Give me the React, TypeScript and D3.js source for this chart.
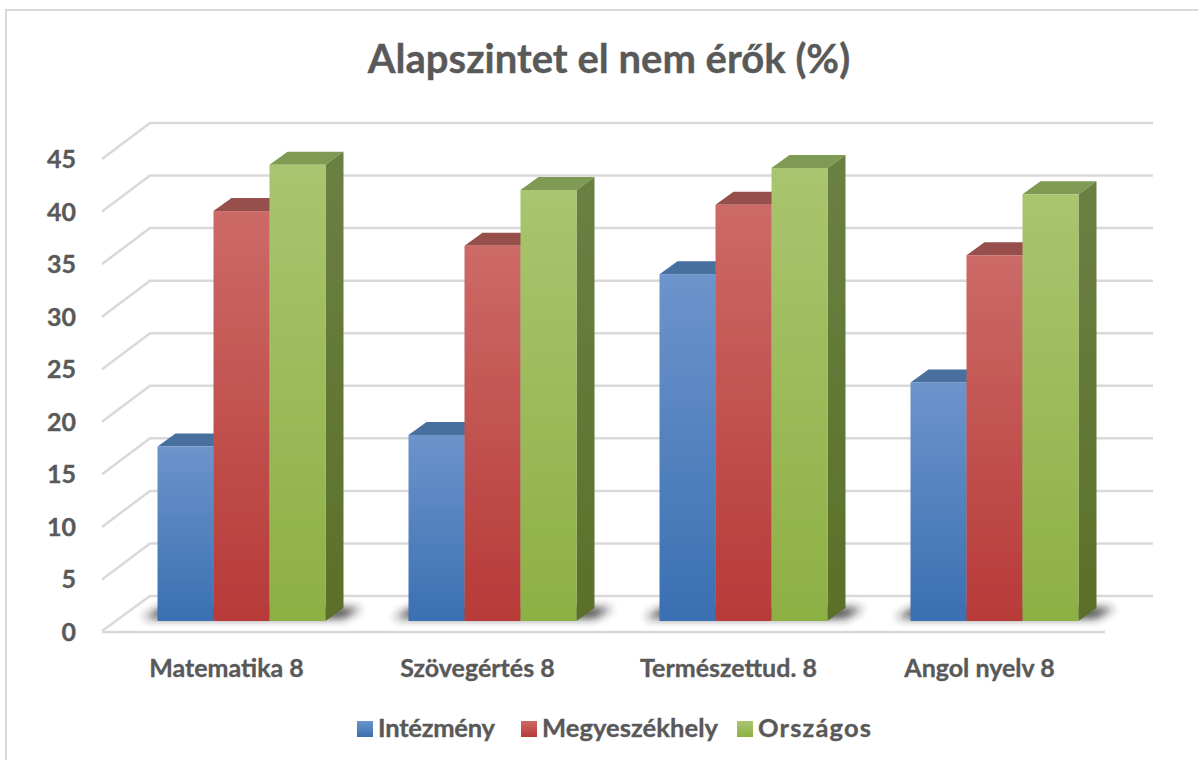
import React from "react";
import * as d3 from "d3";

const categories = ["Matematika 8", "Szövegértés 8", "Természettud. 8", "Angol nyelv 8"];
const seriesNames = ["Intézmény", "Megyeszékhely", "Országos"];
const intezmeny = [16.6, 17.7, 33.0, 22.7];
const megyeszekhely = [39.0, 35.7, 39.6, 34.8];
const orszagos = [43.4, 41.0, 43.1, 40.6];
const yTicks = [0, 5, 10, 15, 20, 25, 30, 35, 40, 45];
const title = "Alapszintet el nem érők (%)";

const allSeries = [intezmeny, megyeszekhely, orszagos];
const font = "Lato, 'Open Sans', sans-serif";
const textColor = "#595959";
const palettes = [
  { top: "#6d94cb", bottom: "#3a6fb2", cap: "#47709f", sideTop: "#41669a", sideBottom: "#2f5688" },
  { top: "#cc6a67", bottom: "#b73a38", cap: "#964f4c", sideTop: "#8f4644", sideBottom: "#7c2c2a" },
  { top: "#a9c56f", bottom: "#8db044", cap: "#7f9a53", sideTop: "#6b8043", sideBottom: "#5a7029" },
];

const floorFrontY = 632;
const floorBackY = 596;
const frontX0 = 102;
const backX0 = 150;
const floorW = 1003;
const unit = 473 / 45;

const yBack = d3.scaleLinear().domain([0, 45]).range([floorBackY, floorBackY - 45 * unit]);
const yFront = d3.scaleLinear().domain([0, 45]).range([floorFrontY - 1, floorFrontY - 1 - 45 * unit]);
const barBase = 621;
const yBar = d3.scaleLinear().domain([0, 45]).range([barBase, barBase - 45 * unit]);
const xBand = d3.scaleBand<string>().domain(categories).range([116, 1120]);
const groupW = 168;
const xSeries = d3.scaleBand<string>().domain(seriesNames).range([0, groupW]);
const depthX = 18;
const depthY = 13;

const line = d3.line<[number, number]>();
const textProps = { fontFamily: font, fontWeight: 700, fill: textColor, stroke: textColor, strokeWidth: 0.35 };
const legendX = [357, 521, 737];
const legendTextW = [117, 176, 113];

export default function App() {
  return (
    <svg width={1198} height={760} viewBox="0 0 1198 760"
      style={{ position: "absolute", left: 0, top: 0, display: "block", background: "#fff" }}>
      <defs>
        <filter id="soft" x="-30%" y="-150%" width="160%" height="400%">
          <feGaussianBlur stdDeviation="5" />
        </filter>
        <filter id="lineBlur" x="-5%" y="-5%" width="110%" height="110%">
          <feGaussianBlur stdDeviation="0.6" />
        </filter>
        <filter id="edge" x="-5%" y="-5%" width="110%" height="110%">
          <feGaussianBlur stdDeviation="0.4" />
        </filter>
        {palettes.map((p, i) => (
          <React.Fragment key={i}>
            <linearGradient id={`front${i}`} x1="0" y1="0" x2="0" y2="1">
              <stop offset="0" stopColor={p.top} />
              <stop offset="1" stopColor={p.bottom} />
            </linearGradient>
            <linearGradient id={`side${i}`} x1="0" y1="0" x2="0" y2="1">
              <stop offset="0" stopColor={p.sideTop} />
              <stop offset="1" stopColor={p.sideBottom} />
            </linearGradient>
          </React.Fragment>
        ))}
      </defs>

      <rect x={6} y={10} width={1240} height={800} fill="none" stroke="#d9d9d9" strokeWidth={2} />

      <text x={609} y={73} textAnchor="middle" fontSize={40} {...textProps}>{title}</text>

      <g stroke="#d9d9d9" strokeWidth={2.5} fill="none" filter="url(#lineBlur)">
        {yTicks.map((t) => (
          <path key={t} d={line([
            [frontX0, yFront(t) + (t === 0 ? 0 : 1)],
            [backX0, yBack(t)],
            [backX0 + floorW, yBack(t)],
          ]) ?? ""} />
        ))}
        <path d={line([[frontX0, floorFrontY], [frontX0 + floorW, floorFrontY]]) ?? ""} />
      </g>

      {yTicks.map((t) => (
        <text key={t} x={76} y={yFront(t) + 10} textAnchor="end" fontSize={25} {...textProps}>{t}</text>
      ))}

      {categories.map((c, ci) => {
        const gx = (xBand(c) ?? 0) + (xBand.bandwidth() - groupW) / 2;
        return (
          <g key={c}>
            <path
              d={line([
                [gx - 15, barBase - 3],
                [gx + 4, barBase - depthY],
                [gx + groupW + depthX + 18, barBase - depthY],
                [gx + groupW + depthX, barBase - 3],
              ]) + "Z"}
              fill="#222" opacity={0.9} filter="url(#soft)"
            />
            <g filter="url(#edge)">
              {allSeries.map((vals, si) => {
                const x = gx + (xSeries(seriesNames[si]) ?? 0);
                const w = xSeries.bandwidth();
                const yTop = yBar(vals[ci]);
                return (
                  <g key={si}>
                    <path d={line([[x, yTop], [x + depthX, yTop - depthY], [x + w + depthX, yTop - depthY], [x + w, yTop]]) + "Z"} fill={palettes[si].cap} />
                    <path d={line([[x + w, yTop], [x + w + depthX, yTop - depthY], [x + w + depthX, barBase - depthY], [x + w, barBase]]) + "Z"} fill={`url(#side${si})`} />
                    <rect x={x} y={yTop} width={w} height={barBase - yTop} fill={`url(#front${si})`} />
                  </g>
                );
              })}
            </g>
          </g>
        );
      })}

      {categories.map((c) => (
        <text key={c} x={(xBand(c) ?? 0) + xBand.bandwidth() / 2 - 15} y={677} textAnchor="middle" fontSize={25} {...textProps}>{c}</text>
      ))}

      {seriesNames.map((s, i) => (
        <g key={s}>
          <rect x={legendX[i]} y={721} width={16} height={16} fill={`url(#front${i})`} />
          <text x={legendX[i] + 21} y={737} fontSize={25.5} textLength={legendTextW[i]} lengthAdjust="spacing" {...textProps}>{s}</text>
        </g>
      ))}
    </svg>
  );
}
